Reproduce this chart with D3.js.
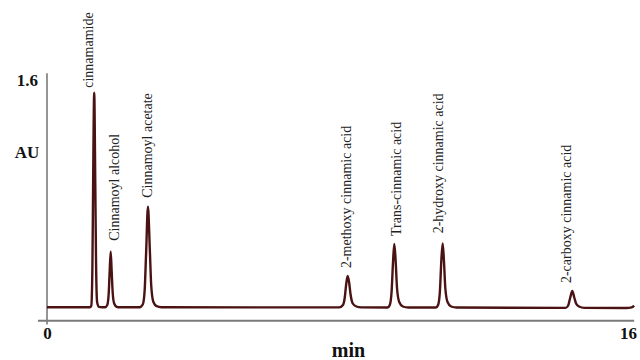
<!DOCTYPE html>
<html>
<head>
<meta charset="utf-8">
<script src="https://cdn.jsdelivr.net/npm/d3@7/dist/d3.min.js"></script>
<style>
  html, body { margin: 0; padding: 0; background: #fff; }
  svg { display: block; }
  .tick-label { font-family: "Liberation Serif", "Times New Roman", serif; font-weight: bold; fill: #111; }
  .peak-label { font-family: "Liberation Serif", "Times New Roman", serif; font-size: 14px; fill: #222; }
</style>
</head>
<body>
<svg id="chart" width="640" height="360"></svg>
<script>
// Chromatogram trace: retention time (min) and absorbance (AU)
const traceTime = [
  0.00, 1.18, 1.22, 1.25, 1.27, 1.30, 1.33, 1.35, 1.38, 1.43, 1.52,
  1.60, 1.66, 1.70, 1.725, 1.754, 1.78, 1.81, 1.85, 1.92, 2.00,
  2.55, 2.64, 2.69, 2.73, 2.78, 2.83, 2.87, 2.93, 3.02, 3.15,
  8.05, 8.15, 8.20, 8.24, 8.28, 8.32, 8.36, 8.42, 8.52, 8.65,
  9.38, 9.44, 9.49, 9.53, 9.564, 9.60, 9.64, 9.70, 9.80, 9.95,
  10.71, 10.77, 10.82, 10.86, 10.897, 10.93, 10.97, 11.03, 11.13, 11.28,
  14.28, 14.35, 14.40, 14.466, 14.52, 14.57, 14.65, 14.80,
  15.95, 16.10, 16.17
];
const traceAU = [
  0.085, 0.085, 0.095, 0.35, 0.90, 1.515, 0.90, 0.40, 0.12, 0.088, 0.085,
  0.085, 0.10, 0.18, 0.32, 0.455, 0.33, 0.18, 0.11, 0.088, 0.085,
  0.085, 0.105, 0.20, 0.45, 0.755, 0.48, 0.23, 0.12, 0.092, 0.085,
  0.084, 0.10, 0.15, 0.24, 0.293, 0.25, 0.17, 0.11, 0.09, 0.084,
  0.083, 0.10, 0.19, 0.39, 0.507, 0.40, 0.21, 0.12, 0.09, 0.083,
  0.083, 0.10, 0.19, 0.40, 0.511, 0.40, 0.21, 0.12, 0.09, 0.083,
  0.081, 0.095, 0.14, 0.193, 0.15, 0.11, 0.09, 0.081,
  0.080, 0.084, 0.095
];

// Identified compounds: apex time and apex absorbance
const peakNames = [
  "cinnamamide", "Cinnamoyl alcohol", "Cinnamoyl acetate",
  "2-methoxy cinnamic acid", "Trans-cinnamic acid",
  "2-hydroxy cinnamic acid", "2-carboxy cinnamic acid"
];
const peakTime = [1.30, 1.754, 2.78, 8.28, 9.564, 10.897, 14.466];
const peakAU   = [1.515, 0.455, 0.755, 0.293, 0.507, 0.511, 0.193];

const xTicks = [0, 16];
const yTicks = [1.6];

const svg = d3.select("#chart");

const x = d3.scaleLinear().domain([0, 16]).range([47, 628]);
const y = d3.scaleLinear().domain([0, 1.6]).range([320, 80]);

// Axis rules
svg.append("line")
  .attr("x1", x(0)).attr("x2", x(0))
  .attr("y1", y(1.645)).attr("y2", y(-0.03))
  .attr("stroke", "#7a7a7a").attr("stroke-width", 1.6);
svg.append("line")
  .attr("x1", x(-0.25)).attr("x2", x(16.17))
  .attr("y1", y(-0.005)).attr("y2", y(-0.005))
  .attr("stroke", "#7a7a7a").attr("stroke-width", 2);

// Tick labels through the library axes
const xAxis = svg.append("g")
  .attr("transform", `translate(0,${y(0)})`)
  .call(d3.axisBottom(x).tickValues(xTicks).tickSize(0).tickPadding(7).tickFormat(d3.format("d")));
xAxis.select(".domain").remove();
xAxis.selectAll("text").attr("class", "tick-label").style("font-size", "17px")
  .attr("font-family", null).attr("fill", null);

const yAxis = svg.append("g")
  .attr("transform", `translate(${x(0)},0)`)
  .call(d3.axisLeft(y).tickValues(yTicks).tickSize(0).tickPadding(9).tickFormat(d3.format(".1f")));
yAxis.select(".domain").remove();
yAxis.selectAll("text").attr("class", "tick-label").style("font-size", "17px")
  .attr("font-family", null).attr("fill", null);

// Axis titles
svg.append("text").attr("class", "tick-label")
  .attr("x", 27).attr("y", 158).attr("text-anchor", "middle")
  .style("font-size", "17px").text("AU");
svg.append("text").attr("class", "tick-label")
  .attr("x", x(8.3)).attr("y", 357).attr("text-anchor", "middle")
  .style("font-size", "20px").text("min");

// Trace
const pts = traceTime.map((t, i) => [t, traceAU[i]]);
const line = d3.line()
  .x(d => x(d[0]))
  .y(d => y(d[1]))
  .curve(d3.curveMonotoneX);
svg.append("path")
  .datum(pts)
  .attr("d", line)
  .attr("fill", "none")
  .attr("stroke", "#4a1212")
  .attr("stroke-width", 2.4)
  .attr("stroke-linejoin", "round");

// Peak labels, rotated and sitting just above each apex
const labelNudge = [-1, 8, 4, 3, 7, 0, -1];
const labelGap   = [5, 11, 9, 8, 8, 10, 8];
svg.selectAll("text.peak-label")
  .data(peakNames)
  .join("text")
  .attr("class", "peak-label")
  .attr("transform", (d, i) =>
    `translate(${x(peakTime[i]) + labelNudge[i]},${y(peakAU[i]) - labelGap[i]}) rotate(-90)`)
  .attr("text-anchor", "start")
  .text(d => d);
</script>
</body>
</html>
